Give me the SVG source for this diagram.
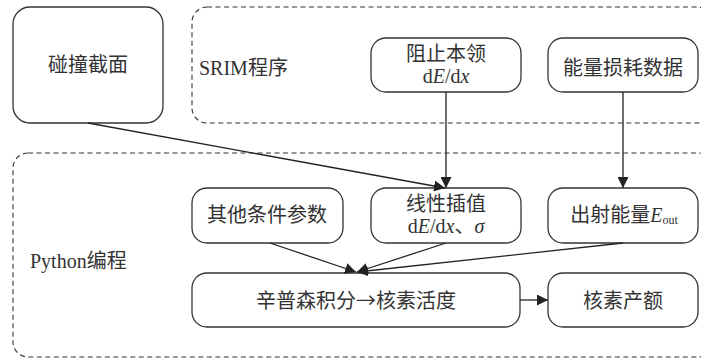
<svg xmlns="http://www.w3.org/2000/svg" width="701" height="358" viewBox="0 0 701 358">
<defs>
<style>
.box{fill:#fff;stroke:#333;stroke-width:1.3}
.grp{fill:none;stroke:#333;stroke-width:1.1;stroke-dasharray:5,3.5}
.t{font-family:"Liberation Serif","Noto Sans CJK SC",serif;font-size:20px;fill:#333;text-anchor:middle}
.tl{font-family:"Liberation Serif","Noto Sans CJK SC",serif;font-size:20px;fill:#333}
.i{font-style:italic}
.ar{font-family:"Noto Sans CJK SC",sans-serif}
.c{stroke:#222;stroke-width:1.3;fill:none}
</style>
<marker id="ah" viewBox="0 0 10 10" refX="10" refY="5" markerWidth="11" markerHeight="11" markerUnits="userSpaceOnUse" orient="auto">
<path d="M0,0 L10,5 L0,10 Z" fill="#222"/>
</marker>
</defs>
<rect width="701" height="358" fill="#fff"/>
<g id="srim-group">
<rect class="grp" x="192" y="7" width="520" height="116" rx="15"/>
<text class="tl" x="199" y="75">SRIM程序</text>
</g>
<g id="python-group">
<rect class="grp" x="13" y="153" width="700" height="204" rx="15"/>
<text class="tl" x="30" y="268">Python编程</text>
</g>
<g id="collision">
<rect class="box" x="13" y="7" width="150" height="116" rx="17"/>
<text class="t" x="88" y="72">碰撞截面</text>
</g>
<g id="stopping">
<rect class="box" x="371" y="38" width="150" height="54" rx="15"/>
<text class="t" x="446" y="61">阻止本领</text>
<text class="t" x="446" y="83">d<tspan class="i">E</tspan>/d<tspan class="i">x</tspan></text>
</g>
<g id="energy-loss">
<rect class="box" x="548" y="38" width="150" height="54" rx="15"/>
<text class="t" x="623" y="75">能量损耗数据</text>
</g>
<g id="other-params">
<rect class="box" x="192" y="188" width="151" height="55" rx="15"/>
<text class="t" x="267" y="222">其他条件参数</text>
</g>
<g id="interp">
<rect class="box" x="371" y="188" width="150" height="55" rx="15"/>
<text class="t" x="446" y="211">线性插值</text>
<text class="t" x="446" y="233">d<tspan class="i">E</tspan>/d<tspan class="i">x</tspan>、<tspan class="i">σ</tspan></text>
</g>
<g id="eout">
<rect class="box" x="548" y="188" width="150" height="55" rx="15"/>
<text class="t" x="624" y="222">出射能量<tspan class="i">E</tspan><tspan font-size="12" dy="2">out</tspan></text>
</g>
<g id="simpson">
<rect class="box" x="192" y="273" width="328" height="54" rx="15"/>
<text class="t" x="356" y="308">辛普森积分<tspan class="ar">→</tspan>核素活度</text>
</g>
<g id="yield">
<rect class="box" x="548" y="273" width="150" height="54" rx="15"/>
<text class="t" x="623" y="308">核素产额</text>
</g>
<g id="connectors">
<line class="c" x1="88" y1="123" x2="445" y2="188" marker-end="url(#ah)"/>
<line class="c" x1="446" y1="92" x2="446" y2="188" marker-end="url(#ah)"/>
<line class="c" x1="623" y1="92" x2="623" y2="188" marker-end="url(#ah)"/>
<line class="c" x1="270" y1="243" x2="356" y2="272" marker-end="url(#ah)"/>
<line class="c" x1="446" y1="243" x2="357" y2="272" marker-end="url(#ah)"/>
<line class="c" x1="623" y1="243" x2="357" y2="272" marker-end="url(#ah)"/>
<line class="c" x1="520" y1="300" x2="548" y2="300" marker-end="url(#ah)"/>
</g>
</svg>
